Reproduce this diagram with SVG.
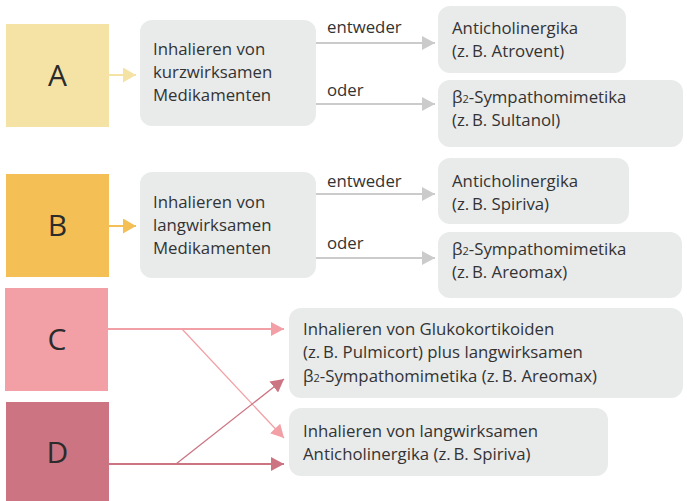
<svg xmlns="http://www.w3.org/2000/svg" width="687" height="501" viewBox="0 0 687 501">
<style>
.t{font-family:"Open Sans","Liberation Sans",sans-serif;font-size:16.8px;fill:#333333}
.L{font-family:"Open Sans","Liberation Sans",sans-serif;font-size:30px;fill:#2b2b2b;text-anchor:middle}
.g{fill:#e9eaea}
.sub{font-size:11px}
</style>
<defs>
<marker id="ag" markerWidth="13" markerHeight="14" refX="13" refY="7" orient="auto" markerUnits="userSpaceOnUse"><path d="M0,0L13,7L0,14Z" fill="#cbcbcb"/></marker>
<marker id="aa" markerWidth="13" markerHeight="15" refX="13" refY="7.5" orient="auto" markerUnits="userSpaceOnUse"><path d="M0,0L13,7.5L0,15Z" fill="#f5e3a5"/></marker>
<marker id="ab" markerWidth="13" markerHeight="15" refX="13" refY="7.5" orient="auto" markerUnits="userSpaceOnUse"><path d="M0,0L13,7.5L0,15Z" fill="#f4bf55"/></marker>
<marker id="ac" markerWidth="13" markerHeight="14" refX="13" refY="7" orient="auto" markerUnits="userSpaceOnUse"><path d="M0,0L13,7L0,14Z" fill="#f2a0a5"/></marker>
<marker id="ad" markerWidth="13" markerHeight="14" refX="13" refY="7" orient="auto" markerUnits="userSpaceOnUse"><path d="M0,0L13,7L0,14Z" fill="#cc7482"/></marker>
</defs>

<g id="connectors" fill="none">
<line x1="109" y1="75" x2="136" y2="75" stroke="#f5e3a5" stroke-width="2" marker-end="url(#aa)"/>
<line x1="109" y1="226" x2="136" y2="226" stroke="#f4bf55" stroke-width="2" marker-end="url(#ab)"/>
<line x1="316" y1="43" x2="435" y2="43" stroke="#cbcbcb" stroke-width="2" marker-end="url(#ag)"/>
<line x1="316" y1="104" x2="435" y2="104" stroke="#cbcbcb" stroke-width="2" marker-end="url(#ag)"/>
<line x1="316" y1="194" x2="435" y2="194" stroke="#cbcbcb" stroke-width="2" marker-end="url(#ag)"/>
<line x1="316" y1="258" x2="435" y2="258" stroke="#cbcbcb" stroke-width="2" marker-end="url(#ag)"/>
<line x1="108" y1="329" x2="284" y2="329" stroke="#f2a0a5" stroke-width="2" marker-end="url(#ac)"/>
<line x1="182" y1="329" x2="284" y2="438" stroke="#f2a0a5" stroke-width="1.3" marker-end="url(#ac)"/>
<line x1="109" y1="464" x2="284" y2="464" stroke="#cc7482" stroke-width="2" marker-end="url(#ad)"/>
<line x1="176" y1="464" x2="284" y2="379" stroke="#cc7482" stroke-width="1.3" marker-end="url(#ad)"/>
<text class="t" x="327" y="33">entweder</text>
<text class="t" x="327" y="96">oder</text>
<text class="t" x="327" y="187">entweder</text>
<text class="t" x="327" y="249">oder</text>
</g>

<g id="A"><rect x="6" y="24" width="103" height="103" fill="#f5e3a5"/><text class="L" x="57.5" y="86">A</text></g>
<g id="B"><rect x="6" y="174" width="103" height="103" fill="#f4bf55"/><text class="L" x="57.5" y="236">B</text></g>
<g id="C"><rect x="5" y="288" width="103" height="103" fill="#f2a0a5"/><text class="L" x="57" y="350">C</text></g>
<g id="D"><rect x="6" y="402" width="103" height="99" fill="#cc7482"/><text class="L" x="57.5" y="463">D</text></g>

<g id="kurz"><rect class="g" x="140" y="20" width="176" height="106" rx="12"/>
<text class="t" x="153" y="55">Inhalieren von</text><text class="t" x="153" y="78">kurzwirksamen</text><text class="t" x="153" y="101">Medikamenten</text></g>
<g id="anti1"><rect class="g" x="438" y="6" width="188" height="67" rx="12"/>
<text class="t" x="452" y="34">Anticholinergika</text><text class="t" x="452" y="57">(z.&#8201;B. Atrovent)</text></g>
<g id="beta1"><rect class="g" x="438" y="80" width="245" height="67" rx="12"/>
<text class="t" x="452" y="103">β<tspan class="sub">2</tspan>-Sympathomimetika</text><text class="t" x="452" y="126">(z.&#8201;B. Sultanol)</text></g>

<g id="lang"><rect class="g" x="140" y="172" width="176" height="106" rx="12"/>
<text class="t" x="153" y="208">Inhalieren von</text><text class="t" x="153" y="231">langwirksamen</text><text class="t" x="153" y="254">Medikamenten</text></g>
<g id="anti2"><rect class="g" x="438" y="158" width="191" height="66" rx="12"/>
<text class="t" x="452" y="187">Anticholinergika</text><text class="t" x="452" y="210">(z.&#8201;B. Spiriva)</text></g>
<g id="beta2"><rect class="g" x="438" y="232" width="244" height="66" rx="12"/>
<text class="t" x="452" y="255">β<tspan class="sub">2</tspan>-Sympathomimetika</text><text class="t" x="452" y="278">(z.&#8201;B. Areomax)</text></g>

<g id="gluko"><rect class="g" x="289" y="308" width="394" height="90" rx="12"/>
<text class="t" x="303" y="335">Inhalieren von Glukokortikoiden</text><text class="t" x="303" y="358">(z.&#8201;B. Pulmicort) plus langwirksamen</text><text class="t" x="303" y="382">β<tspan class="sub">2</tspan>-Sympathomimetika (z.&#8201;B. Areomax)</text></g>
<g id="langanti"><rect class="g" x="289" y="408" width="319" height="68" rx="12"/>
<text class="t" x="303" y="437">Inhalieren von langwirksamen</text><text class="t" x="303" y="460">Anticholinergika (z.&#8201;B. Spiriva)</text></g>
</svg>
